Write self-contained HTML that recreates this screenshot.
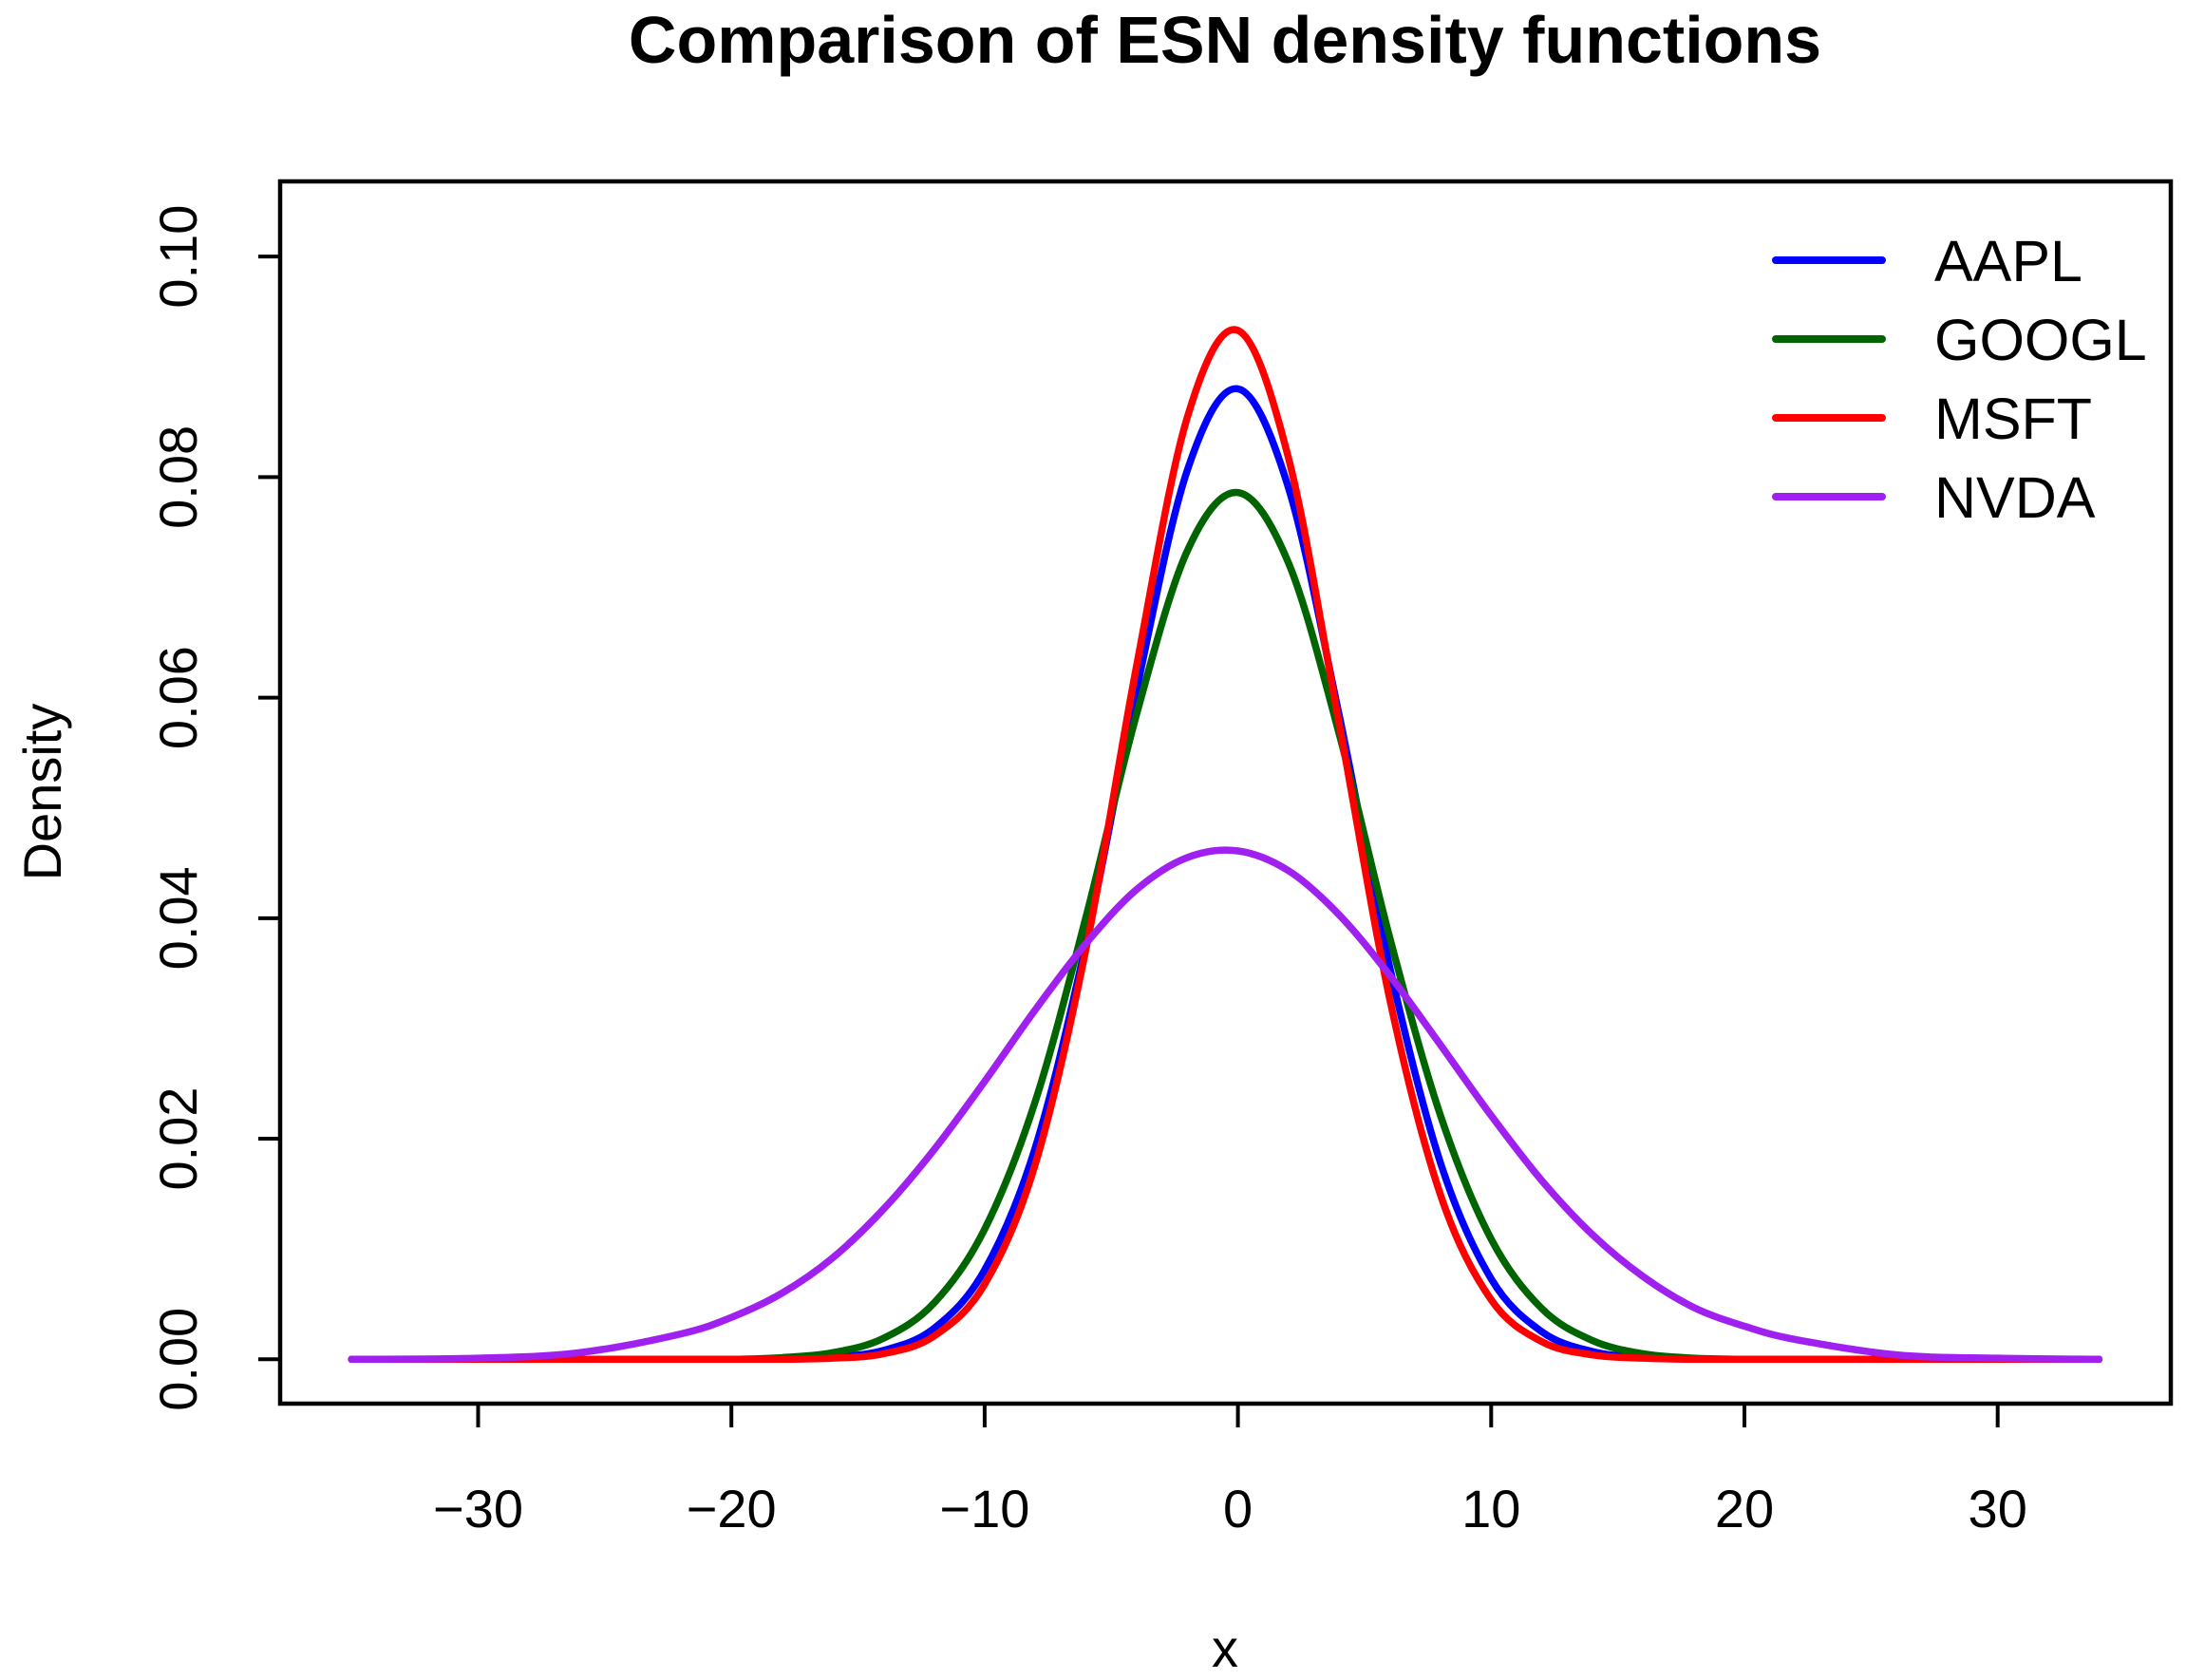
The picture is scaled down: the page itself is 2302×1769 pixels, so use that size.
<!DOCTYPE html>
<html><head><meta charset="utf-8"><style>
html,body{margin:0;padding:0;background:#fff}
svg{display:block;font-family:"Liberation Sans",Arial,sans-serif}
</style></head><body>
<svg id="chart" width="2302" height="1769" viewBox="0 0 2302 1769" xmlns="http://www.w3.org/2000/svg">
<rect width="2302" height="1769" fill="#fff"/>
<text x="1290" y="66" text-anchor="middle" font-size="70" font-weight="bold">Comparison of ESN density functions</text>
<text x="1290" y="1755" text-anchor="middle" font-size="56">x</text>
<text transform="translate(64,834) rotate(-90)" text-anchor="middle" font-size="56">Density</text>
<g id="curves"></g>
<g id="axes"></g>
<rect x="295" y="191" width="1991" height="1287" fill="none" stroke="#000" stroke-width="4.5"/>
<g id="legend"></g>
</svg>
<script>
const xs=[-35,-30,-26,-22,-20,-18,-16,-14,-12,-10,-8,-6,-4,-2,0,2,4,6,8,10,12,14,16,18,20,22,26,30,34];
const aapl=[0,0,0,0,0,0,0.0002,0.0008,0.0028,0.0081,0.0192,0.0377,0.0607,0.0806,0.088,0.079,0.0584,0.0355,0.0178,0.0073,0.0025,0.0007,0.00016,0,0,0,0,0,0];
const googl=[0,0,0,0,0,0.00015,0.0006,0.0019,0.0051,0.0118,0.0234,0.0401,0.0585,0.0733,0.0786,0.0722,0.0567,0.0382,0.0221,0.0109,0.0046,0.0017,0.0005,0.0001,0,0,0,0,0];
const msft=[0,0,0,0,0,0,0.0001,0.0005,0.0021,0.0068,0.0177,0.0372,0.0629,0.0854,0.0933,0.0817,0.0576,0.0326,0.0149,0.0054,0.0016,0.0004,0.0001,0,0,0,0,0,0];
const nvda=[0,0.0001,0.0006,0.0023,0.0038,0.006,0.0092,0.0136,0.019,0.0252,0.0317,0.0377,0.0426,0.0455,0.0461,0.0443,0.0403,0.0348,0.0285,0.0221,0.0162,0.0113,0.0075,0.0047,0.003,0.0018,0.0004,0.0001,0];
const seriesNames=["AAPL","GOOGL","MSFT","NVDA"];
const seriesColors=["#0000ff","#006400","#ff0000","#a020f0"];
const xTicks=[-30,-20,-10,0,10,20,30];
const xTickLabels=["\u221230","\u221220","\u221210","0","10","20","30"];
const yTicks=[0,0.02,0.04,0.06,0.08,0.10];
const yTickLabels=["0.00","0.02","0.04","0.06","0.08","0.10"];
const NS="http://www.w3.org/2000/svg";
function sx(v){return 1303.6+v*26.67;}
function sy(v){return 1431.3-v*11612;}
function mk(tag,attrs,parent){const e=document.createElementNS(NS,tag);for(const k in attrs)e.setAttribute(k,attrs[k]);parent.appendChild(e);return e;}
const curves=document.getElementById('curves');
[aapl,googl,msft,nvda].forEach((ys,si)=>{
  const p=xs.map((x,i)=>[sx(x),sy(ys[i])]);
  let d="M"+p[0][0]+","+p[0][1];
  for(let i=0;i<p.length-1;i++){
    const p0=p[Math.max(0,i-1)],p1=p[i],p2=p[i+1],p3=p[Math.min(p.length-1,i+2)];
    const c1x=p1[0]+(p2[0]-p0[0])/6,c1y=Math.min(sy(0),p1[1]+(p2[1]-p0[1])/6);
    const c2x=p2[0]-(p3[0]-p1[0])/6,c2y=Math.min(sy(0),p2[1]-(p3[1]-p1[1])/6);
    d+=" C"+c1x+","+c1y+" "+c2x+","+c2y+" "+p2[0]+","+p2[1];
  }
  const path=mk('path',{d:d,fill:'none',stroke:seriesColors[si],'stroke-width':7.5,'stroke-linejoin':'round','stroke-linecap':'round'},curves);
  
  
});
const axes=document.getElementById('axes');
const xl=mk('line',{x1:sx(xTicks[0]),x2:sx(xTicks[xTicks.length-1]),y1:1478,y2:1478,stroke:'#000','stroke-width':4},axes);


xTicks.forEach((t,i)=>{
  const l=mk('line',{x1:sx(t),x2:sx(t),y1:1478,y2:1503,stroke:'#000','stroke-width':4},axes);
  
  
  const tx=mk('text',{x:sx(t),y:1608,'text-anchor':'middle','font-size':56},axes);
  tx.textContent=xTickLabels[i];
  
  
});
yTicks.forEach((t,i)=>{
  const l=mk('line',{x1:295,x2:272,y1:sy(t),y2:sy(t),stroke:'#000','stroke-width':4},axes);
  
  
  const tx=mk('text',{transform:'translate(207,'+sy(t)+') rotate(-90)','text-anchor':'middle','font-size':56},axes);
  tx.textContent=yTickLabels[i];
  
  
});
const legend=document.getElementById('legend');


seriesNames.forEach((n,i)=>{
  const y=274+i*83;
  const l=mk('line',{x1:1870,x2:1982,y1:y,y2:y,stroke:seriesColors[i],'stroke-width':8,'stroke-linecap':'round'},legend);
  
  
  const t=mk('text',{x:2037,y:y+22,'font-size':61},legend);
  t.textContent=n;
  
  
});
</script>
</body></html>
